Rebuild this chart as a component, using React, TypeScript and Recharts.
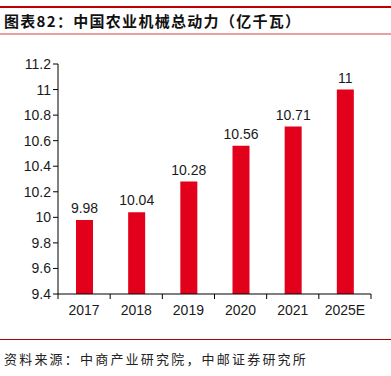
import { BarChart, Bar, XAxis, YAxis, LabelList } from "recharts";

const years = ["2017", "2018", "2019", "2020", "2021", "2025E"];
const power = [9.98, 10.04, 10.28, 10.56, 10.71, 11];
const yTicks = [9.4, 9.6, 9.8, 10, 10.2, 10.4, 10.6, 10.8, 11, 11.2];

const data = years.map((year, i) => ({ year, power: power[i] }));

const W = 391;
const H = 376;
const margin = { top: 64, right: 20, bottom: 52, left: 8 };
const yAxisWidth = 50;
const plotLeft = margin.left + yAxisWidth;
const band = (W - margin.right - plotLeft) / years.length;

const red = "#e3001b";
const textColor = "#1a1a1a";
const font = "'Liberation Sans', Arial, sans-serif";
const cjk = "'Noto Sans CJK SC', sans-serif";

function fmt(v: number) {
  return String(parseFloat(Number(v).toFixed(2)));
}

function XTick(props: any) {
  const { x, y, payload, index } = props;
  const left = x - band / 2;
  return (
    <g>
      <line x1={left} x2={left} y1={y - 8} y2={y - 3} stroke="#000" />
      {index === years.length - 1 && (
        <line x1={x + band / 2} x2={x + band / 2} y1={y - 8} y2={y - 3} stroke="#000" />
      )}
      <text
        x={x}
        y={y + 13}
        textAnchor="middle"
        fontSize={14}
        fontFamily={font}
        fill={textColor}
      >
        {payload.value}
      </text>
    </g>
  );
}

export default function App() {
  return (
    <div
      style={{
        position: "absolute",
        left: 0,
        top: 0,
        width: W,
        height: H,
        background: "#fff",
        overflow: "hidden",
      }}
    >
      <div style={{ position: "absolute", left: 0, top: 6, width: W, height: 2, background: "#c00000" }} />
      <div
        style={{
          position: "absolute",
          left: 4,
          top: 11,
          fontFamily: cjk,
          fontSize: 15,
          fontWeight: 700,
          letterSpacing: 1.3,
          color: "#111",
          lineHeight: "20px",
          whiteSpace: "nowrap",
        }}
      >
        图表82：中国农业机械总动力（亿千瓦）
      </div>
      <div style={{ position: "absolute", left: 0, top: 33, width: W, height: 2, background: "#e8a0a0" }} />

      <div style={{ position: "absolute", left: 0, top: 0 }}>
        <BarChart width={W} height={H} data={data} margin={margin}>
          <XAxis
            dataKey="year"
            axisLine={{ stroke: "#000" }}
            tickLine={false}
            tick={<XTick />}
            interval={0}
            height={30}
          />
          <YAxis
            domain={[9.4, 11.2]}
            ticks={yTicks}
            allowDataOverflow
            width={yAxisWidth}
            axisLine={{ stroke: "#000" }}
            tickLine={{ stroke: "#000" }}
            tickSize={5}
            tickFormatter={fmt}
            tick={{ fontSize: 14, fontFamily: font, fill: textColor }}
          />
          <Bar dataKey="power" fill={red} barSize={17} isAnimationActive={false}>
            <LabelList
              dataKey="power"
              position="top"
              offset={7}
              formatter={(v: any) => fmt(v)}
              style={{ fontSize: 14, fontFamily: font, fill: textColor }}
            />
          </Bar>
        </BarChart>
      </div>

      <div style={{ position: "absolute", left: 0, top: 339, width: W, height: 1, background: "#b00000" }} />
      <div
        style={{
          position: "absolute",
          left: 4,
          top: 349,
          fontFamily: cjk,
          fontSize: 13,
          letterSpacing: 2.2,
          color: "#222",
          lineHeight: "20px",
          whiteSpace: "nowrap",
        }}
      >
        资料来源：中商产业研究院，中邮证券研究所
      </div>
    </div>
  );
}
